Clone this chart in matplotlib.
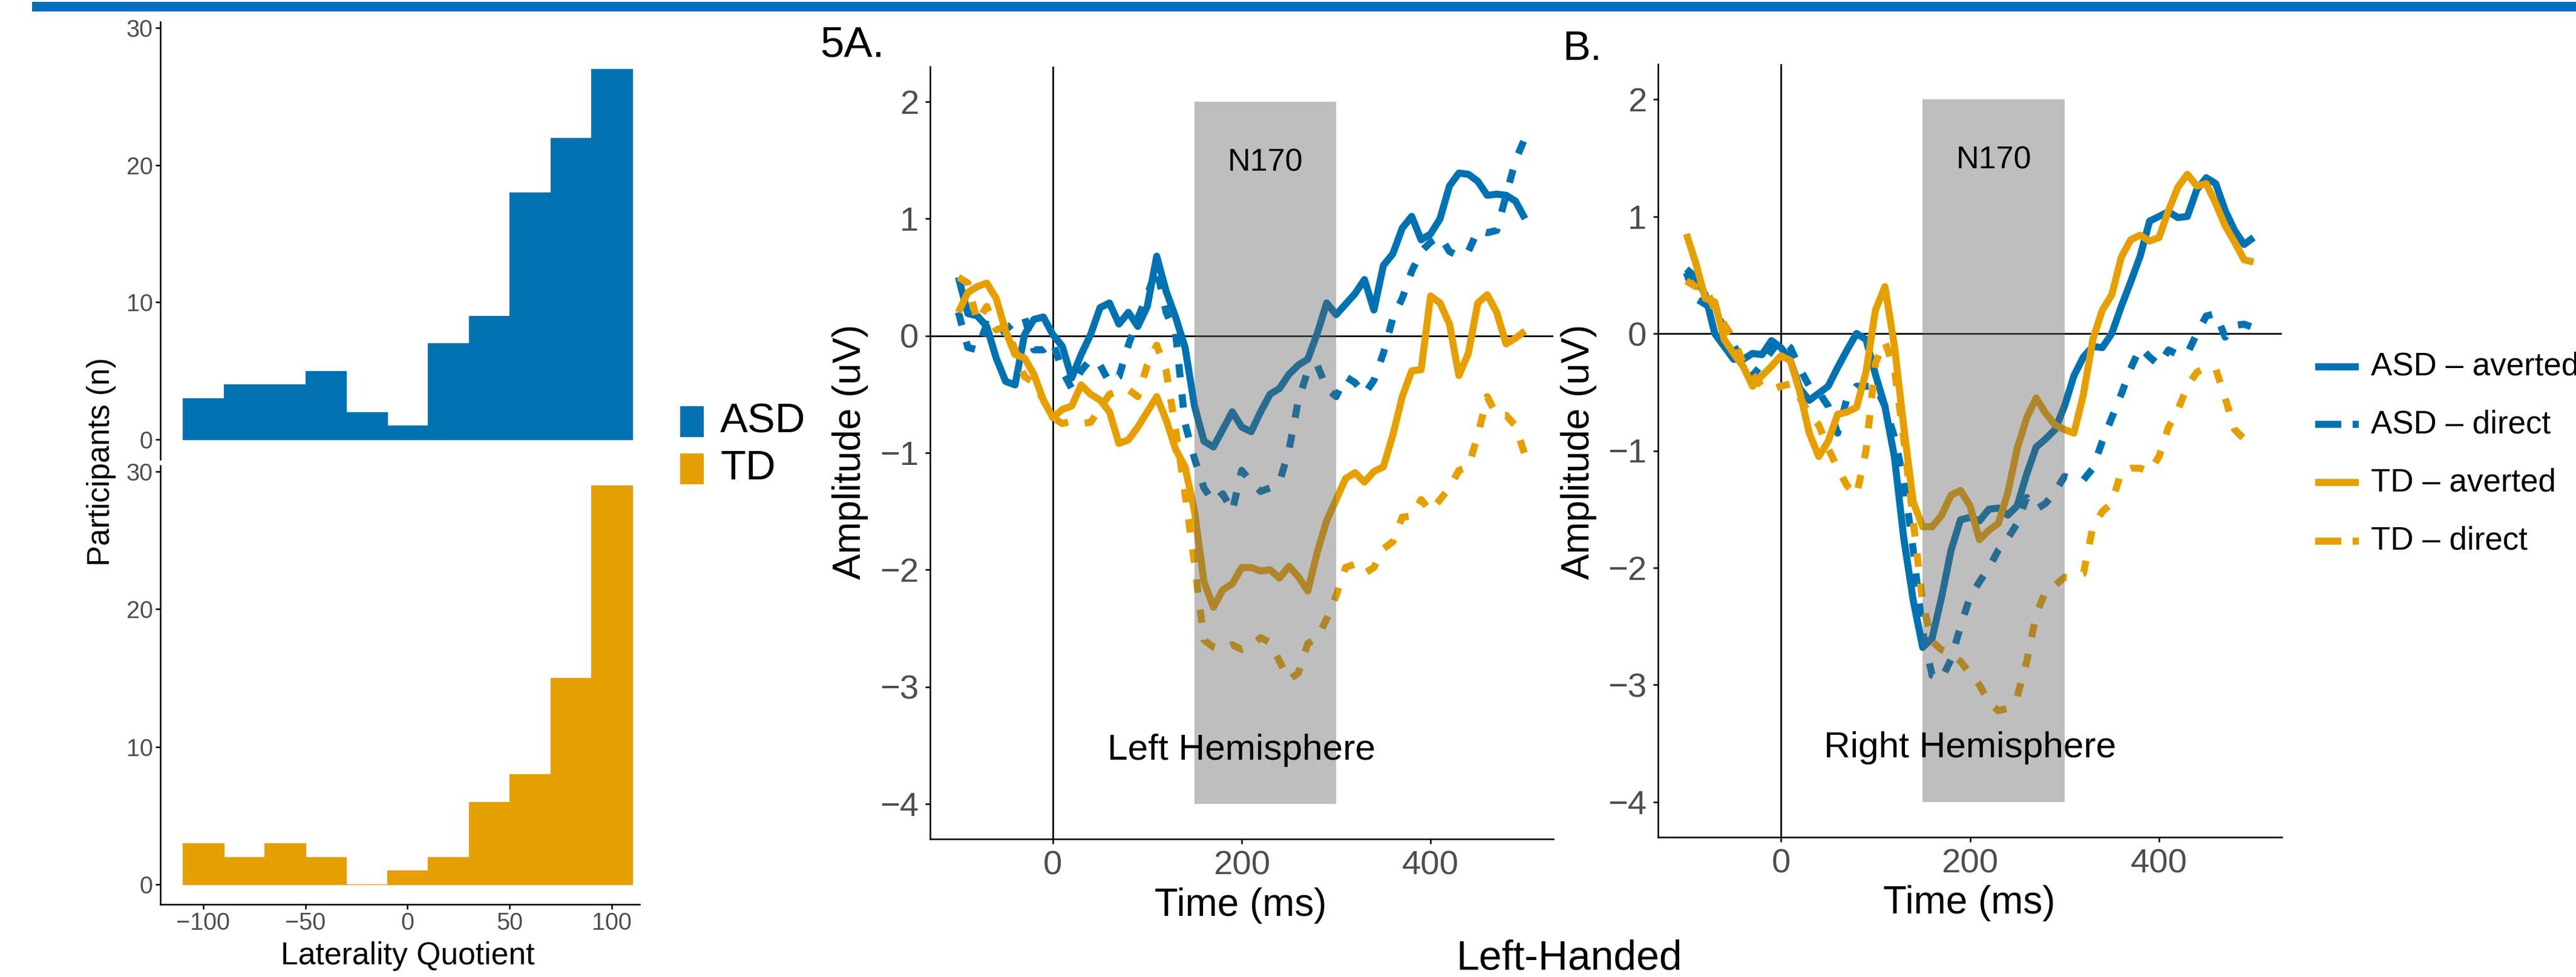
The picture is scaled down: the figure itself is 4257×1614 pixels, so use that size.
import matplotlib
matplotlib.use('Agg')
import matplotlib.pyplot as plt
from matplotlib.patches import Rectangle
from matplotlib.lines import Line2D
import numpy as np

plt.rcParams['font.family'] = ['Liberation Sans', 'DejaVu Sans']

# ---- histogram data (laterality quotient, bins of 20) ----
bin_left = list(range(-110, 110, 20))
asd_counts = [3, 4, 4, 5, 2, 1, 7, 9, 18, 22, 27]
td_counts = [3, 2, 3, 2, 0, 1, 2, 6, 8, 15, 29]

# ---- ERP data, -100..500 ms every 10 ms ----
time_ms = list(range(-100, 501, 10))

A_asd_averted = [0.50, 0.19, 0.17, 0.08, -0.19, -0.39, -0.42, 0.01, 0.14, 0.16,
                 0.01, -0.09, -0.36, -0.16, 0.01, 0.24, 0.28, 0.10, 0.20, 0.08,
                 0.25, 0.68, 0.38, 0.16, -0.10, -0.60, -0.90, -0.95, -0.80, -0.65,
                 -0.78, -0.82, -0.65, -0.50, -0.45, -0.33, -0.25, -0.20, 0.02, 0.28,
                 0.18, 0.27, 0.36, 0.48, 0.22, 0.60, 0.70, 0.92, 1.02, 0.82,
                 0.87, 1.00, 1.28, 1.39, 1.38, 1.32, 1.20, 1.21, 1.20, 1.15, 1.00]
A_asd_direct = [0.20, -0.10, -0.12, 0.10, 0.02, 0.05, 0.12, 0.16, -0.12, -0.12,
                -0.05, -0.30, -0.45, -0.30, -0.20, -0.25, -0.40, -0.35, -0.08, 0.15,
                0.35, 0.57, 0.20, 0.02, -0.75, -1.05, -1.30, -1.42, -1.35, -1.50,
                -1.15, -1.25, -1.33, -1.30, -1.25, -0.98, -0.55, -0.30, -0.25, -0.45,
                -0.52, -0.35, -0.40, -0.50, -0.38, -0.15, 0.15, 0.32, 0.55, 0.72,
                0.80, 0.85, 0.72, 0.68, 0.72, 0.90, 0.88, 0.90, 1.20, 1.50, 1.69]
A_td_averted = [0.20, 0.37, 0.42, 0.45, 0.32, 0.04, -0.16, -0.19, -0.33, -0.55,
                -0.70, -0.63, -0.60, -0.42, -0.50, -0.55, -0.65, -0.92, -0.89, -0.78,
                -0.65, -0.52, -0.72, -0.97, -1.12, -1.50, -2.10, -2.32, -2.17, -2.12,
                -1.98, -1.98, -2.01, -2.00, -2.07, -1.97, -2.06, -2.18, -1.85, -1.58,
                -1.40, -1.22, -1.17, -1.25, -1.16, -1.12, -0.85, -0.52, -0.30, -0.29,
                0.34, 0.28, 0.10, -0.34, -0.15, 0.28, 0.35, 0.20, -0.07, -0.02, 0.04]
A_td_direct = [0.50, 0.45, 0.12, 0.25, 0.05, 0.08, -0.12, -0.35, -0.40, -0.55,
               -0.70, -0.75, -0.73, -0.75, -0.74, -0.62, -0.50, -0.47, -0.46, -0.52,
               -0.25, -0.08, -0.30, -0.80, -1.35, -1.95, -2.60, -2.66, -2.68, -2.64,
               -2.68, -2.65, -2.58, -2.62, -2.78, -2.94, -2.88, -2.63, -2.58, -2.42,
               -2.22, -1.98, -1.95, -2.03, -1.98, -1.82, -1.76, -1.55, -1.54, -1.40,
               -1.50, -1.40, -1.30, -1.15, -1.12, -0.85, -0.52, -0.68, -0.68, -0.77, -1.02]

B_asd_averted = [0.55, 0.48, 0.33, 0.00, -0.11, -0.22, -0.22, -0.17, -0.18, -0.06,
                 -0.12, -0.23, -0.47, -0.57, -0.51, -0.45, -0.29, -0.14, 0.00, -0.05,
                 -0.35, -0.62, -1.05, -1.75, -2.28, -2.68, -2.60, -2.25, -1.85, -1.59,
                 -1.57, -1.60, -1.50, -1.49, -1.55, -1.47, -1.20, -0.97, -0.90, -0.82,
                 -0.62, -0.36, -0.20, -0.11, -0.12, 0.00, 0.23, 0.44, 0.66, 0.96,
                 1.00, 1.04, 0.99, 1.00, 1.23, 1.33, 1.28, 1.05, 0.88, 0.76, 0.82]
B_asd_direct = [0.52, 0.30, 0.25, 0.20, 0.05, -0.10, -0.25, -0.36, -0.26, -0.15,
                -0.05, -0.12, -0.30, -0.45, -0.50, -0.62, -0.85, -0.55, -0.45, -0.45,
                -0.45, -0.62, -0.88, -1.25, -1.85, -2.55, -2.92, -2.95, -2.78, -2.50,
                -2.25, -2.12, -2.00, -1.85, -1.75, -1.62, -1.40, -1.50, -1.45, -1.35,
                -1.22, -1.25, -1.25, -1.15, -0.92, -0.72, -0.52, -0.30, -0.12, -0.20,
                -0.27, -0.14, -0.18, -0.17, 0.00, 0.15, 0.17, -0.03, 0.07, 0.08, 0.05]
B_td_averted = [0.85, 0.60, 0.30, 0.27, -0.05, -0.17, -0.28, -0.45, -0.36, -0.28,
                -0.19, -0.23, -0.50, -0.85, -1.05, -0.92, -0.69, -0.67, -0.63, -0.33,
                0.20, 0.40, -0.10, -0.80, -1.44, -1.65, -1.65, -1.55, -1.38, -1.34,
                -1.47, -1.76, -1.68, -1.62, -1.36, -0.98, -0.72, -0.55, -0.68, -0.78,
                -0.82, -0.85, -0.52, -0.05, 0.20, 0.33, 0.65, 0.80, 0.84, 0.79,
                0.82, 1.05, 1.25, 1.36, 1.26, 1.28, 1.11, 0.92, 0.78, 0.63, 0.61]
B_td_direct = [0.45, 0.40, 0.40, 0.20, 0.08, -0.05, -0.25, -0.35, -0.45, -0.48,
               -0.45, -0.43, -0.55, -0.68, -0.78, -0.98, -1.15, -1.30, -1.38, -1.00,
               -0.25, -0.07, -0.30, -0.90, -1.60, -2.30, -2.63, -2.70, -2.73, -2.80,
               -2.90, -3.00, -3.15, -3.22, -3.20, -3.10, -2.80, -2.40, -2.20, -2.15,
               -2.08, -2.08, -2.05, -1.65, -1.52, -1.45, -1.18, -1.15, -1.15, -1.18,
               -1.05, -0.80, -0.65, -0.45, -0.33, -0.29, -0.30, -0.55, -0.82, -0.90, -0.95]

series_labels = ['ASD \u2013 averted', 'ASD \u2013 direct', 'TD \u2013 averted', 'TD \u2013 direct']
n170_window = (150, 300)
n170_range = (-4, 2)

blue = '#0072B2'
orange = '#E69F00'
tick_grey = '#4D4D4D'
styles = [(blue, '-'), (blue, (0, (1.9, 2.4))), (orange, '-'), (orange, (0, (1.9, 2.4)))]
LW = 2.8

W, H = 4257, 1614
fig = plt.figure(figsize=(W / 300, H / 300), dpi=300)


def box(l, t, r, b):
    return [l / W, 1 - b / H, (r - l) / W, (b - t) / H]


def fx(x):
    return x / W


def fy(y):
    return 1 - y / H


# top blue stripe
fig.add_artist(Rectangle((fx(53), fy(19)), 1 - fx(53), 16 / H,
                         transform=fig.transFigure, color='#0070C0', lw=0))

# ---- histograms ----
ax_top = fig.add_axes(box(265, 36, 1057, 759))
ax_bot = fig.add_axes(box(265, 769, 1057, 1494))
for ax, counts, col in [(ax_top, asd_counts, blue), (ax_bot, td_counts, orange)]:
    # thin edge so that an empty bin still shows as a line at zero, like ggplot
    ax.bar(bin_left, counts, width=20, align='edge', color=col, edgecolor=col, lw=0.3)
    ax.set_xlim(-121, 113.6)
    ax.set_ylim(-1.45, 30.45)
    ax.set_yticks([0, 10, 20, 30])
    for s in ['top', 'right']:
        ax.spines[s].set_visible(False)
    for s in ['left', 'bottom']:
        ax.spines[s].set_linewidth(0.6)
    ax.tick_params(labelsize=9.5, labelcolor=tick_grey, length=2, width=0.6, pad=1)
ax_top.spines['bottom'].set_visible(False)
ax_top.set_xticks([])
ax_bot.set_xticks([-100, -50, 0, 50, 100])

fig.text(fx(168), fy(763), 'Participants (n)', rotation=90, ha='center', va='center', fontsize=12.3)
fig.text(fx(674), fy(1593), 'Laterality Quotient', ha='center', va='baseline', fontsize=12.4)

# histogram legend
for (ytop, ybot), lab, col in [((671, 722), 'ASD', blue), ((749, 800), 'TD', orange)]:
    fig.add_artist(Rectangle((fx(1124), fy(ybot)), 39 / W, (ybot - ytop) / H,
                             transform=fig.transFigure, color=col, lw=0))
    fig.text(fx(1190), fy((ytop + ybot) / 2), lab, ha='left', va='center', fontsize=16.5)

# ---- ERP panels ----
axA = fig.add_axes(box(1537, 110, 2567, 1386))
axB = fig.add_axes(box(2740, 106, 3771, 1383))
panels = [
    (axA, [A_asd_averted, A_asd_direct, A_td_averted, A_td_direct], 'Left Hemisphere'),
    (axB, [B_asd_averted, B_asd_direct, B_td_averted, B_td_direct], 'Right Hemisphere'),
]
handles = []
for ax, curves, hemi in panels:
    ax.axhline(0, color='black', lw=0.65, zorder=1)
    ax.axvline(0, color='black', lw=0.65, zorder=1)
    hs = []
    for vals, (col, ls), lab in zip(curves, styles, series_labels):
        h, = ax.plot(time_ms, vals, color=col, linestyle=ls, lw=LW,
                     solid_capstyle='butt', dash_capstyle='butt', label=lab, zorder=2)
        hs.append(h)
    handles = hs
    ax.add_patch(Rectangle((n170_window[0], n170_range[0]), n170_window[1] - n170_window[0],
                           n170_range[1] - n170_range[0], color='#646464', alpha=0.42,
                           lw=0, zorder=3))
    ax.text(225, 1.41, 'N170', ha='center', va='baseline', fontsize=12.5, zorder=4)
    ax.text(200, -3.62, hemi, ha='center', va='baseline', fontsize=14.5, zorder=4)
    ax.set_xlim(-130, 530)
    ax.set_ylim(-4.3, 2.3)
    ax.set_xticks([0, 200, 400])
    ax.set_yticks([-4, -3, -2, -1, 0, 1, 2])
    for s in ['top', 'right']:
        ax.spines[s].set_visible(False)
    for s in ['left', 'bottom']:
        ax.spines[s].set_linewidth(0.6)
    ax.tick_params(labelsize=13.5, labelcolor=tick_grey, length=2, width=0.6, pad=2.5)

fig.text(fx(1405), fy(746), 'Amplitude (uV)', rotation=90, ha='center', va='center', fontsize=15.3)
fig.text(fx(2609), fy(746), 'Amplitude (uV)', rotation=90, ha='center', va='center', fontsize=15.3)
fig.text(fx(2050), fy(1513), 'Time (ms)', ha='center', va='baseline', fontsize=15.3)
fig.text(fx(3254), fy(1509), 'Time (ms)', ha='center', va='baseline', fontsize=15.3)
fig.text(fx(1355), fy(94), '5A.', ha='left', va='baseline', fontsize=17)
fig.text(fx(2582), fy(99), 'B.', ha='left', va='baseline', fontsize=16.5)
fig.text(fx(2593), fy(1601), 'Left-Handed', ha='center', va='baseline', fontsize=16.3)

# ERP legend
for h, yrow in zip(handles, [606, 701, 797, 894]):
    fig.add_artist(Line2D([fx(3826), fx(3898)], [fy(yrow), fy(yrow)], transform=fig.transFigure,
                          color=h.get_color(), linestyle=h.get_linestyle(), lw=LW,
                          solid_capstyle='butt', dash_capstyle='butt'))
    fig.text(fx(3918), fy(yrow), h.get_label(), ha='left', va='center', fontsize=12.7)

fig.savefig('out.png', dpi=300)
